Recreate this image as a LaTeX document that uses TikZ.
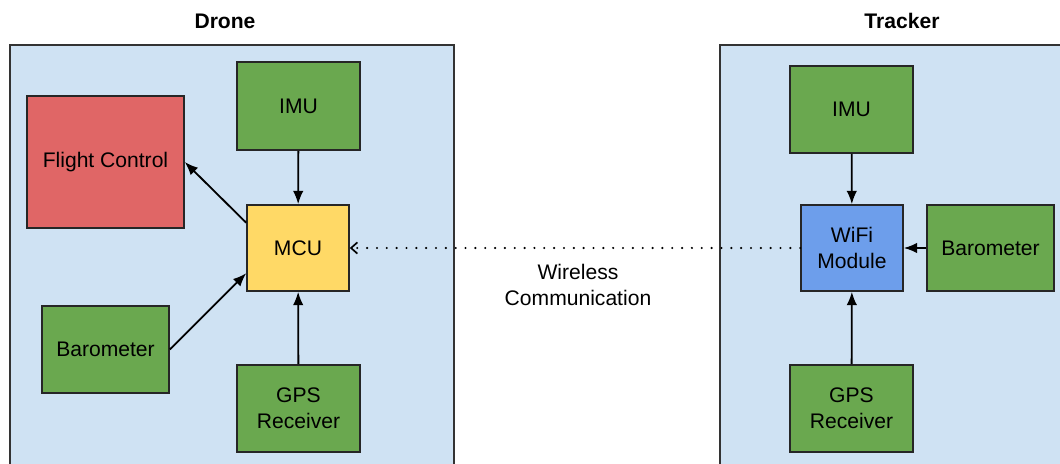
\documentclass[tikz,border=0pt]{standalone}
\usepackage{fontspec}
\setmainfont{Liberation Sans}
\usetikzlibrary{arrows.meta}

\definecolor{panelblue}{HTML}{CFE2F3}
\definecolor{sensgreen}{HTML}{6AA84F}
\definecolor{fcred}{HTML}{E06666}
\definecolor{mcuyellow}{HTML}{FFD966}
\definecolor{wifiblue}{HTML}{6D9EEB}

\tikzset{
  block/.style={draw=black!85, line width=1.1pt, fill=#1, align=center,
    inner sep=0pt, font=\fontsize{15}{18.5}\selectfont},
  sensor/.style={block=sensgreen, minimum width=3.075cm, minimum height=2.2cm},
  cpu/.style={block=#1, minimum width=2.55cm, minimum height=2.15cm},
  link/.style={-{Latex[length=9.5pt,width=7.5pt]}, line width=1.3pt},
  radio/.style={-{Straight Barb[length=4.5pt,width=8pt,line width=1.2pt]}, line width=1.7pt,
    line cap=round, dash pattern=on 0pt off 7pt},
  panel/.style={draw=black!80, line width=1.2pt, fill=panelblue},
  title/.style={font=\fontsize{15}{18}\selectfont\bfseries}
}

\begin{document}
\begin{tikzpicture}[x=0.025cm, y=-0.025cm]
  % ==== PAGE ====
  \clip (0,0) rectangle (1060,464);

  % ==== PANELS ====
  \draw[panel] (10,45) rectangle (454,480);
  \draw[panel] (720,45) rectangle (1080,480);
  \node[title] (droneT) at (225,21) {Drone};
  \node[title] (trackT) at (902,21) {Tracker};

  % ==== DRONE ====
  \node[block=fcred, minimum width=3.925cm, minimum height=3.3cm] (fc) at (105.5,162) {Flight Control};
  \node[sensor] (imuD) at (298.5,106) {IMU};
  \node[cpu=mcuyellow] (mcu) at (298,248) {MCU};
  \node[sensor, minimum width=3.175cm, minimum height=2.175cm] (baroD) at (105.5,349.5) {Barometer};
  \node[sensor, minimum height=2.175cm] (gpsD) at (298.5,408.5) {GPS\\Receiver};

  \draw[link] (imuD) -- (mcu);
  \draw[link] (mcu.154) -- (fc.east);
  \draw[link] (baroD.east) -- (mcu.206);
  \draw[link] (gpsD) -- (mcu);

  % ==== TRACKER ====
  \node[sensor, minimum height=2.175cm] (imuT) at (851.5,109.5) {IMU};
  \node[cpu=wifiblue] (wifi) at (852,248) {WiFi\\Module};
  \node[sensor, minimum width=3.175cm, minimum height=2.15cm] (baroT) at (990.5,248) {Barometer};
  \node[sensor, minimum height=2.175cm] (gpsT) at (851.5,408.5) {GPS\\Receiver};

  \draw[link] (imuT) -- (wifi);
  \draw[link] (baroT) -- (wifi);
  \draw[link] (gpsT) -- (wifi);

  % ==== WIRELESS LINK ====
  \draw[radio] (wifi.west) -- (mcu.east);
  \node[align=center, font=\fontsize{15}{18.5}\selectfont] (wlabel) at (578,285) {Wireless\\Communication};
\end{tikzpicture}
\end{document}
